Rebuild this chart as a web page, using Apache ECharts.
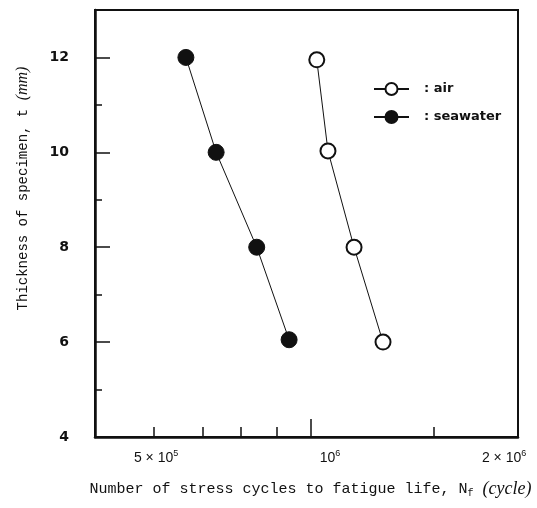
<!DOCTYPE html>
<html>
<head>
<meta charset="utf-8">
<script src="https://cdn.jsdelivr.net/npm/echarts@6/dist/echarts.min.js"></script>
<style>
  html, body { margin: 0; padding: 0; background: #fff; }
  #chart { width: 537px; height: 508px; }
</style>
</head>
<body>
<div id="chart"></div>
<script>
// values
const seawaterCycles = [5.86e5, 6.61e5, 7.77e5, 8.84e5]
const seawaterThickness = [12, 10, 8, 6.05]
const airCycles = [9.87e5, 1.032e6, 1.145e6, 1.285e6]
const airThickness = [11.95, 10.03, 8, 6]

const xLabelValues = [5e5, 1e6, 2e6]
const xLabelTexts = ['{n|5 × 10}{s|5}', '{n|10}{s|6}', '{n|2 × 10}{s|6}']
const xMinorTicks = [5.16e5, 6.27e5, 7.3e5, 8.43e5, 1.57e6]
const xMajorTicks = [9.64e5]
const yLabelValues = [4, 6, 8, 10, 12]
const yMinorTicks = [5, 7, 9, 11]

const ink = '#111'
const mono = '"Liberation Mono", "DejaVu Sans Mono", monospace'
const xMin = 4.08e5
const xMax = 2.2e6

const pairs = (xs, ys) => xs.map((x, i) => [x, ys[i]])

const xLabelFor = (value) => {
  const i = xLabelValues.findIndex((v) => Math.abs(value - v) / v < 1e-4)
  return i < 0 ? '' : xLabelTexts[i]
}

const chart = echarts.init(document.getElementById('chart'))

chart.setOption({
  animation: false,
  backgroundColor: '#fff',
  grid: {
    left: 95,
    right: 19,
    top: 10,
    bottom: 71,
    outerBoundsMode: 'none',
    show: true,
    borderColor: ink,
    borderWidth: 2
  },
  legend: {
    orient: 'vertical',
    left: 373,
    top: 82,
    padding: 0,
    itemWidth: 35,
    itemHeight: 15,
    itemGap: 14,
    data: ['air', 'seawater'],
    textStyle: {
      color: ink,
      fontFamily: 'DejaVu Sans',
      fontWeight: 'bold',
      fontSize: 13,
      padding: [0, 0, 0, 10]
    },
    formatter: (name) => ': ' + name
  },
  xAxis: [
    {
      type: 'log',
      min: xMin,
      max: xMax,
      name: '{m|Number of stress cycles to fatigue life, N}{sub|f}{m| }{it|(cycle)}',
      nameLocation: 'middle',
      nameGap: 43,
      nameMoveOverlap: false,
      nameTextStyle: {
        padding: [0, 0, 0, 8],
        rich: {
          m: { fontFamily: mono, fontSize: 15, color: ink },
          sub: { fontFamily: mono, fontSize: 10, color: ink, padding: [8, 0, 0, 0] },
          it: { fontFamily: 'Liberation Serif', fontStyle: 'italic', fontSize: 18, color: ink }
        }
      },
      axisLine: { lineStyle: { color: ink, width: 2.5 } },
      axisTick: {
        inside: true,
        length: 10,
        customValues: xMinorTicks,
        lineStyle: { color: ink, width: 1.5 }
      },
      minorTick: { show: false },
      splitLine: { show: false },
      axisLabel: {
        customValues: xLabelValues,
        margin: 12,
        padding: [0, 0, 0, 20],
        formatter: xLabelFor,
        rich: {
          n: { fontFamily: 'Liberation Sans', fontSize: 14, color: ink },
          s: { fontFamily: 'Liberation Sans', fontSize: 9, color: ink, padding: [0, 0, 10, 0] }
        }
      }
    },
    {
      type: 'log',
      min: xMin,
      max: xMax,
      position: 'bottom',
      axisLine: { show: false },
      axisLabel: { show: false },
      splitLine: { show: false },
      axisTick: {
        inside: true,
        length: 18,
        customValues: xMajorTicks,
        lineStyle: { color: ink, width: 1.5 }
      }
    }
  ],
  yAxis: [
    {
      type: 'value',
      min: 4,
      max: 13,
      name: '{m|Thickness of specimen, t }{it|(mm)}',
      nameLocation: 'middle',
      nameGap: 64,
      nameMoveOverlap: false,
      nameTextStyle: {
        padding: [0, 0, 0, 70],
        rich: {
          m: { fontFamily: mono, fontSize: 14, color: ink },
          it: { fontFamily: 'Liberation Serif', fontStyle: 'italic', fontSize: 16, color: ink }
        }
      },
      axisLine: { lineStyle: { color: ink, width: 2.5 } },
      axisTick: {
        inside: true,
        length: 15,
        customValues: yLabelValues,
        lineStyle: { color: ink, width: 1.5 }
      },
      splitLine: { show: false },
      axisLabel: {
        customValues: yLabelValues,
        margin: 26,
        color: ink,
        fontFamily: 'DejaVu Sans',
        fontWeight: 'bold',
        fontSize: 14
      }
    },
    {
      type: 'value',
      min: 4,
      max: 13,
      position: 'left',
      axisLine: { show: false },
      axisLabel: { show: false },
      splitLine: { show: false },
      axisTick: {
        inside: true,
        length: 7,
        customValues: yMinorTicks,
        lineStyle: { color: ink, width: 1.5 }
      }
    }
  ],
  series: [
    {
      name: 'air',
      type: 'line',
      data: pairs(airCycles, airThickness),
      symbol: 'circle',
      symbolSize: 15,
      lineStyle: { color: ink, width: 1 },
      itemStyle: { color: '#fff', borderColor: ink, borderWidth: 2 }
    },
    {
      name: 'seawater',
      type: 'line',
      data: pairs(seawaterCycles, seawaterThickness),
      symbol: 'circle',
      symbolSize: 16,
      lineStyle: { color: ink, width: 1 },
      itemStyle: { color: ink, borderColor: ink, borderWidth: 1 }
    }
  ]
})

window.addEventListener('resize', () => chart.resize())
</script>
</body>
</html>
